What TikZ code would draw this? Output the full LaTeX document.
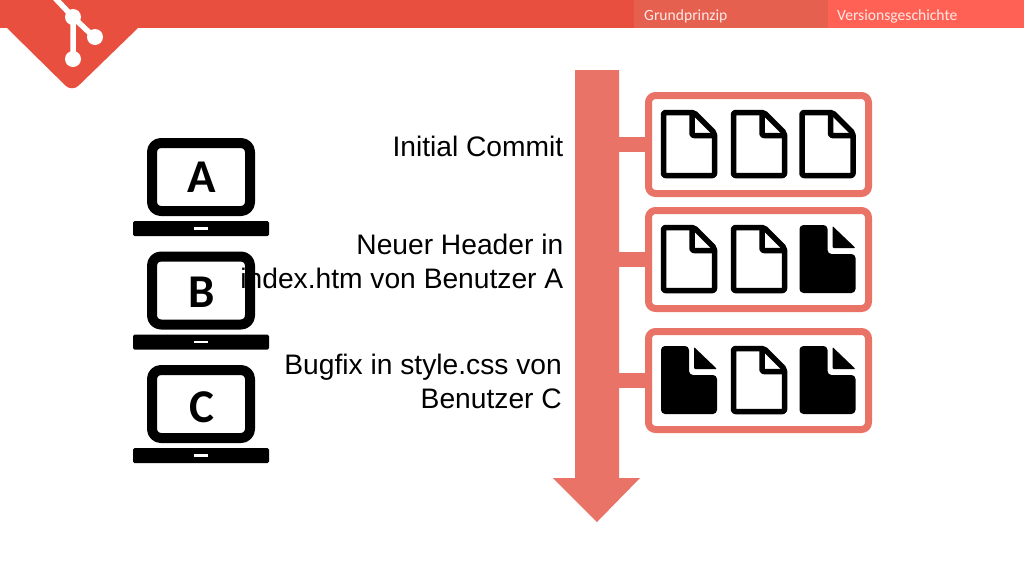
\documentclass[tikz,border=0pt]{standalone}
\usepackage{fontspec}
\setmainfont{Liberation Sans}
\newfontfamily\tabfont{Carlito}
\definecolor{barred}{HTML}{E94F3F}
\definecolor{tabdark}{HTML}{E5604F}
\definecolor{tablight}{HTML}{FF6255}
\definecolor{salmon}{HTML}{E97366}
\tikzset{
	commitbox/.style={draw=salmon, line width=7pt, rounded corners=7pt, fill=white, inner sep=0pt, minimum width=220pt, minimum height=98pt},
	label/.style={anchor=east, align=right, font=\fontsize{28.2}{34}\selectfont, inner sep=0pt},
	tablabel/.style={anchor=base west, inner sep=0pt, text=white!85!tablight, font=\tabfont\fontsize{15.6}{18}\selectfont},
	letter/.style={inner sep=0pt, font=\tabfont\bfseries\fontsize{47}{50}\selectfont},
	docopen/.pic={
		\draw[line width=5.5pt, rounded corners=2pt, line join=round] (2.5,2.5)--(33,2.5)--(53.5,23)--(53.5,65.5)--(2.5,65.5)--cycle;
		\draw[line width=5.5pt, rounded corners=2pt] (31,2.5)--(31,25.5)--(53.5,25.5);
	},
	docfull/.pic={
		\fill[rounded corners=4pt] (0,0)--(28,0)--(28,29)--(56,29)--(56,68)--(0,68)--cycle;
		\fill[rounded corners=1pt] (33,1)--(56,23)--(33,23)--cycle;
	}
}
\begin{document}
\begin{tikzpicture}[x=1pt, y=-1pt, line join=round]
	\useasboundingbox (0,0) rectangle (1024,576);
	% top bar
	\fill[barred] (0,0) rectangle (634,28);
	\fill[tabdark] (634,0) rectangle (828,28);
	\fill[tablight] (828,0) rectangle (1024,28);
	\fill[barred] (7,28) [rounded corners=9pt] -- (72,92) [sharp corners] -- (138,28) -- cycle;
	\node[tablabel] (tabone) at (644,20) {Grundprinzip};
	\node[tablabel] (tabtwo) at (837,20) {Versionsgeschichte};
	% logo
	\draw[white, line width=5.5pt] (55,-2)--(73,17)--(95,38) (73,17)--(73,59);
	\foreach \x/\y in {73/17,95/37,73/59} \fill[white] (\x,\y) circle (8);
	% timeline
	\fill[salmon] (575,70)--(619,70)--(619,478)--(640,478)--(597,522)--(553,478)--(575,478)--cycle;
	\foreach \n/\y in {one/144.5,two/259.5,three/380.5} {
		\coordinate (line\n) at (619,\y);
		\node[commitbox] (box\n) at (758.5,\y) {};
		\draw[salmon, line width=15pt] (line\n)--(box\n.west);
	}
	% files
	\foreach \y/\a/\b/\c in {110/docopen/docopen/docopen,225/docopen/docopen/docfull,346/docfull/docopen/docfull} {
		\pic at (661,\y) {\a};
		\pic at (731,\y) {\b};
		\pic at (799.5,\y) {\c};
	}
	% laptops
	\foreach \n/\y/\ly in {A/0/177,B/113.5/292,C/227/407} {
		\begin{scope}[yshift=-\y pt]
			\draw[line width=10pt, rounded corners=9pt] (152,143) rectangle (250,211);
			\fill[rounded corners=1.5pt] (133,221) rectangle (269,236);
			\fill[white] (194,227) rectangle (208,229.5);
		\end{scope}
		\node[letter] (pc\n) at (201.5,\ly) {\n};
	}
	% messages
	\node[label] (msgone) at (563.5,146) {Initial Commit};
	\node[label] (msgtwo) at (563.5,261) {Neuer Header in\\index.htm von Benutzer A};
	\node[label] (msgthree) at (562,381) {Bugfix in style.css von\\Benutzer C};
\end{tikzpicture}
\end{document}
